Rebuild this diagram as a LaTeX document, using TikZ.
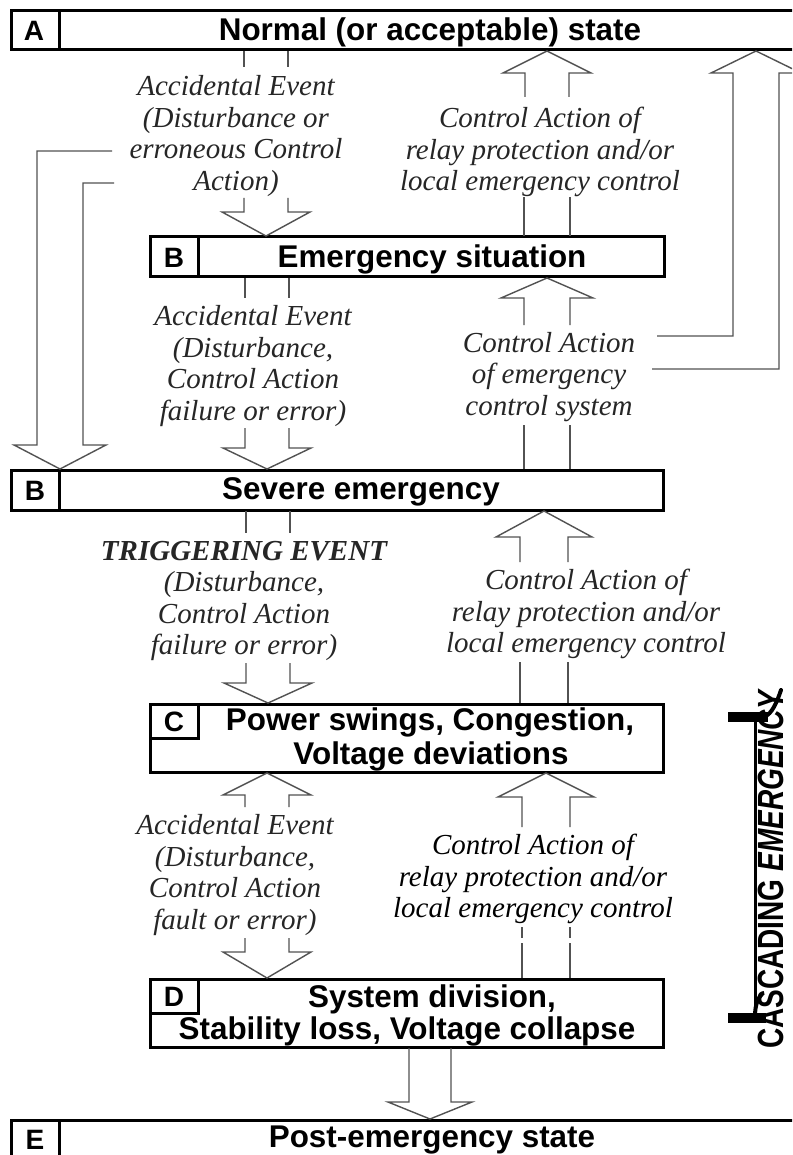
\documentclass[tikz,border=0pt]{standalone}
\usepackage{fontspec}
\setmainfont{Liberation Serif}
\setsansfont{Liberation Sans}
\usetikzlibrary{fit}
\newcommand\hollowhead[5]{% cx, half, y shaft start, y wing, y tip
  \draw[arr] (#1-#2,#3) -- (#1-#2,#4) -- (#1-2*#2,#4) -- (#1,#5) -- (#1+2*#2,#4) -- (#1+#2,#4) -- (#1+#2,#3);}
\newcommand\shaftpair[4]{% cx, half, y1, y2
  \draw[arr] (#1-#2,#3) -- (#1-#2,#4) (#1+#2,#3) -- (#1+#2,#4);}
\tikzset{
  box/.style={draw=black, line width=3pt, inner sep=0pt},
  cell/.style={draw=black, line width=3pt},
  arr/.style={draw=black!68, line width=1.4pt, line join=miter},
  boxtxt/.style={font=\sffamily\bfseries\fontsize{31.4}{36}\selectfont, inner sep=0pt},
  lettxt/.style={font=\sffamily\bfseries\fontsize{28}{32}\selectfont, inner sep=0pt},
  lbl/.style={font=\itshape\fontsize{29}{31.5}\selectfont, align=center, inner sep=0pt, text=black!85},
}
\begin{document}
\begin{tikzpicture}[x=1pt,y=-1pt]
\clip (0,0) rectangle (792,1155);
\fill[white] (0,0) rectangle (792,1155);

% ---- boxes
\node[box, fit={(11,11) (800,50)}] (A) {};
\draw[cell] (59,11) -- (59,50);
\node[lettxt] (Alet) at (34,31) {A};
\node[boxtxt] (Atxt) at (430,32) {Normal (or acceptable) state};

\node[box, fit={(150,237) (664,277)}] (B1) {};
\draw[cell] (198,237) -- (198,277);
\node[lettxt] (B1let) at (174,258) {B};
\node[boxtxt] (B1txt) at (432,259) {Emergency situation};

\node[box, fit={(11,470) (663,510)}] (B2) {};
\draw[cell] (59,470) -- (59,510);
\node[lettxt] (B2let) at (35,491) {B};
\node[boxtxt] (B2txt) at (361,492) {Severe emergency};

\node[box, fit={(150,704) (663,772)}] (C) {};
\draw[cell] (198,704) -- (198,738) -- (150,738);
\node[lettxt] (Clet) at (174,722) {C};
\node[boxtxt] (Ctxt1) at (430,722) {Power swings, Congestion,};
\node[boxtxt] (Ctxt2) at (431,756) {Voltage deviations};

\node[box, fit={(150,979) (663,1047)}] (D) {};
\draw[cell] (198,979) -- (198,1013) -- (150,1013);
\node[lettxt] (Dlet) at (174,997) {D};
\node[boxtxt] (Dtxt1) at (432,999) {System division,};
\node[boxtxt] (Dtxt2) at (407,1031) {Stability loss, Voltage collapse};

\node[box, fit={(11,1120) (800,1170)}] (E) {};
\draw[cell] (59,1120) -- (59,1170);
\node[lettxt] (Elet) at (35,1140) {E};
\node[boxtxt] (Etxt) at (432,1140) {Post-emergency state};

% ---- labels
\node[lbl] (L1) at (236,136) {Accidental Event\\(Disturbance or\\erroneous Control\\Action)};
\node[lbl] (R1) at (540,152) {Control Action of\\relay protection and/or\\local emergency control};
\node[lbl] (L2) at (253,366) {Accidental Event\\(Disturbance,\\Control Action\\failure or error)};
\node[lbl] (R2) at (549,377) {Control Action\\of emergency\\control system};
\node[lbl] (L3) at (244,601) {\textbf{TRIGGERING EVENT}\\(Disturbance,\\Control Action\\failure or error)};
\node[lbl] (R3) at (586,614) {Control Action of\\relay protection and/or\\local emergency control};
\node[lbl] (L4) at (235,875) {Accidental Event\\(Disturbance,\\Control Action\\fault or error)};
\node[lbl, text=black] (R4) at (533,879) {Control Action of\\relay protection and/or\\local emergency control};

% ---- arrows
% A -> B (accidental)
\shaftpair{266}{22}{51}{67}
\hollowhead{266}{22}{198}{212}{236}
% B -> A (relay protection)
\hollowhead{547}{22}{97}{73}{51}
\shaftpair{547}{23}{197}{236}
% emergency control system -> A (big right)
\draw[arr] (657,336) -- (733,336) -- (733,73) -- (711,73) -- (756,51) -- (801,73) -- (779,73) -- (779,369) -- (652,369);
% erroneous control -> severe (big left)
\draw[arr] (112,151) -- (37,151) -- (37,445) -- (14,445) -- (60,469) -- (106,445) -- (83,445) -- (83,183) -- (114,183);
% B -> Severe
\shaftpair{267}{22}{278}{298}
\hollowhead{267}{22}{428}{448}{469}
% Severe -> B
\hollowhead{547}{23}{325}{298}{278}
\shaftpair{547}{23}{425}{469}
% Severe -> C
\shaftpair{268}{22}{511}{533}
\hollowhead{268}{22}{663}{683}{703}
% C -> Severe
\hollowhead{544}{24}{562}{537}{511}
\shaftpair{544}{24}{662}{703}
% C -> D
\hollowhead{267}{22}{807}{795}{773}
\hollowhead{267}{22}{938}{952}{978}
% D -> C
\hollowhead{546}{24}{827}{797}{773}
\shaftpair{546}{24}{927}{938}
\shaftpair{546}{24}{943}{978}
% D -> E
\hollowhead{430}{21}{1048}{1102}{1119}

% ---- cascading emergency
\node[rotate=90, font=\sffamily\bfseries\fontsize{28}{32}\selectfont, inner sep=0pt] (casc) at (771,869)
  {\scalebox{1}[1.3]{CASCADING \textit{EMERGENCY}}};
\draw[line width=3pt] (755,716) -- (755,1016);
\draw[line width=10pt] (728,717) -- (768,717);
\draw[line width=4pt, line cap=round] (764,717) .. controls (772,714) and (777,702) .. (781,690);
\draw[line width=10pt] (728,1018) -- (766,1018);
\draw[line width=4pt] (755,1016) .. controls (755,1005) and (758,998) .. (762,994);
\end{tikzpicture}
\end{document}
